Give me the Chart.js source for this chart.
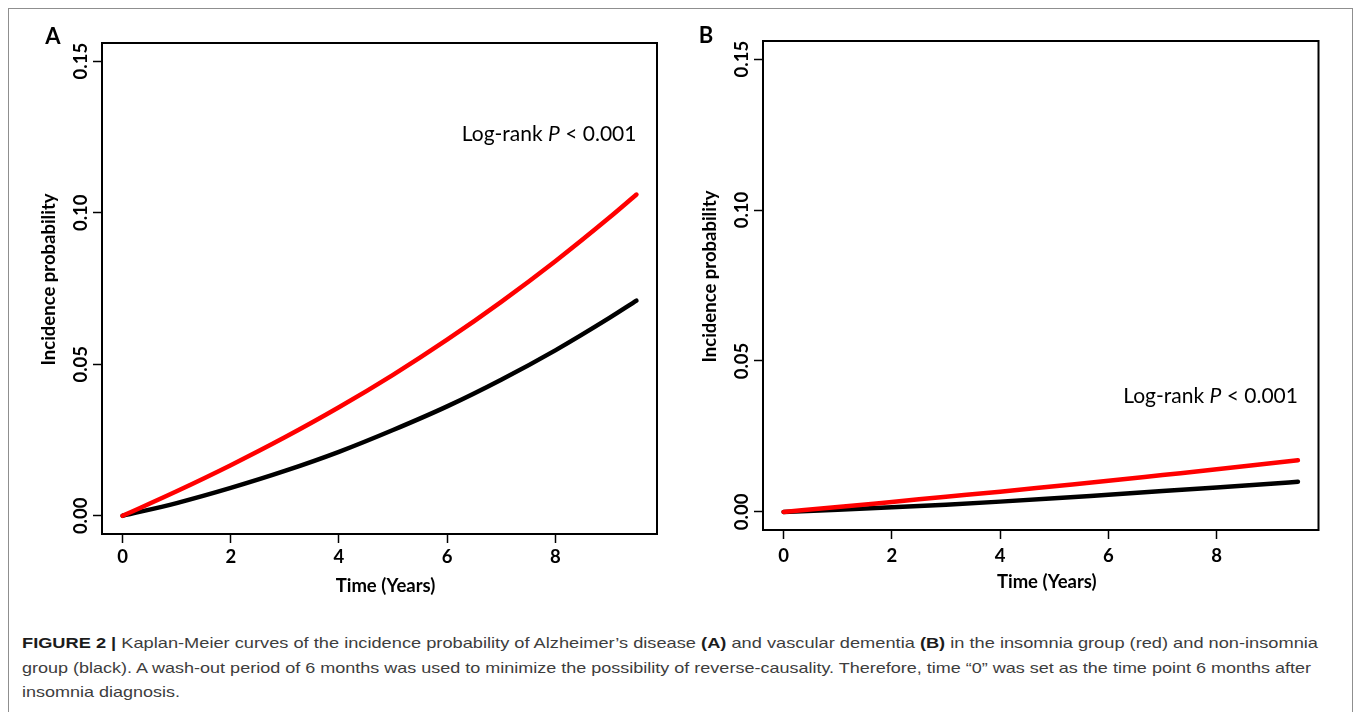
<!DOCTYPE html>
<html>
<head>
<meta charset="utf-8">
<script src="https://cdn.jsdelivr.net/npm/chart.js@4.4.1/dist/chart.umd.min.js"></script>
<style>
  body { margin: 0; width: 1358px; height: 712px; background: #fff; position: relative; overflow: hidden; }
  #frame { position: absolute; left: 8px; top: 8px; width: 1345px; height: 740px; border: 1.5px solid #8f8f8f; box-sizing: border-box; }
  canvas { position: absolute; top: 0; }
  #chartA { left: 0; }
  #chartB { left: 679px; }
  .cap { position: absolute; left: 22px; font-family: "Liberation Sans Narrow", "Liberation Sans", Arial, sans-serif;
         font-size: 15px; line-height: 24px; color: #3d3d3d; white-space: nowrap; transform-origin: left center; }
  .cap b { color: #1c1c1c; }
</style>
</head>
<body>
<div id="frame"></div>
<canvas id="chartA" width="679" height="612"></canvas>
<canvas id="chartB" width="679" height="612"></canvas>
<div class="cap" id="cap1" style="top:631px"><b>FIGURE 2 |</b> Kaplan-Meier curves of the incidence probability of Alzheimer’s disease <b>(A)</b> and vascular dementia <b>(B)</b> in the insomnia group (red) and non-insomnia</div>
<div class="cap" id="cap2" style="top:656px">group (black). A wash-out period of 6 months was used to minimize the possibility of reverse-causality. Therefore, time “0” was set as the time point 6 months after</div>
<div class="cap" id="cap3" style="top:680px">insomnia diagnosis.</div>
<script>
// time since wash-out (years)
const years = [0, 1, 2, 3, 4, 5, 6, 7, 8, 9, 9.5];

// A: Alzheimer's disease
const adInsomnia = [0, 0.0081, 0.0167, 0.0259, 0.0358, 0.0465, 0.0581, 0.0706, 0.0840, 0.0984, 0.1060];
const adControl  = [0, 0.0042, 0.0092, 0.0148, 0.0211, 0.0283, 0.0361, 0.0449, 0.0546, 0.0653, 0.0710];

// B: vascular dementia
const vdInsomnia = [0, 0.0016, 0.0033, 0.0050, 0.0067, 0.0085, 0.0103, 0.0122, 0.0141, 0.0161, 0.0171];
const vdControl  = [0, 0.0007, 0.0015, 0.0024, 0.0034, 0.0045, 0.0057, 0.0069, 0.0081, 0.0093, 0.0100];

const xTicks = [0, 2, 4, 6, 8];
const yTicks = [0, 0.05, 0.10, 0.15];
const yTickLabels = ["0.00", "0.05", "0.10", "0.15"];
const xTitle = "Time (Years)";
const yTitle = "Incidence probability";
const pText = ["Log-rank ", "P", " < 0.001"];

const FONT = "Lato";

function toPoints(xs, ys) {
  return xs.map((x, i) => ({ x: x, y: ys[i] }));
}

// box, rotated y labels, axis titles, panel letter, log-rank note
const kmPlugin = {
  id: "km",
  afterDraw(chart, args, opts) {
    const { ctx, chartArea: { left, top, right, bottom }, scales: { x, y } } = chart;
    ctx.save();
    ctx.strokeStyle = "#000";
    ctx.lineWidth = 2;
    ctx.strokeRect(left, top, right - left, bottom - top);

    ctx.fillStyle = "#000";
    ctx.font = `bold 18.5px ${FONT}`;
    ctx.textAlign = "center";
    ctx.textBaseline = "middle";
    yTicks.forEach((v, i) => {
      ctx.save();
      ctx.translate(left - 21, y.getPixelForValue(v));
      ctx.rotate(-Math.PI / 2);
      ctx.fillText(yTickLabels[i], 0, 0);
      ctx.restore();
    });

    // axis titles (R puts them a little off the box centre here)
    ctx.fillText(xTitle, (left + right) / 2 + 6, opts.xTitleY);
    ctx.save();
    ctx.translate(left - 53, (top + bottom) / 2 - 9);
    ctx.rotate(-Math.PI / 2);
    ctx.fillText(yTitle, 0, 0);
    ctx.restore();

    ctx.font = `bold 22px ${FONT}`;
    ctx.fillText(opts.letter, opts.letterX, opts.letterY);

    // right end of note sits at the last time point
    const fonts = [`21px ${FONT}`, `italic 21px ${FONT}`, `21px ${FONT}`];
    const widths = pText.map((t, i) => { ctx.font = fonts[i]; return ctx.measureText(t).width; });
    let px = x.getPixelForValue(years[years.length - 1]) - widths.reduce((a, b) => a + b, 0);
    const py = y.getPixelForValue(opts.noteY);
    ctx.textAlign = "left";
    pText.forEach((t, i) => {
      ctx.font = fonts[i];
      ctx.fillText(t, px, py);
      px += widths[i];
    });
    ctx.restore();
  },
};

function makeChart(canvasId, red, black, p) {
  const tickFont = { family: FONT, size: 18.5, weight: "bold" };
  const config = {
    type: "line",
    data: {
      datasets: [
        { label: "Insomnia", data: toPoints(years, red), borderColor: "#ff0000", borderWidth: 4.5 },
        { label: "Non-insomnia", data: toPoints(years, black), borderColor: "#000000", borderWidth: 4.5 },
      ],
    },
    options: {
      responsive: false,
      animation: false,
      devicePixelRatio: 1,
      layout: { padding: { left: 0, top: p.padTop, right: p.padRight, bottom: 0 } },
      elements: {
        point: { radius: 0 },
        line: { cubicInterpolationMode: "monotone", borderCapStyle: "round", fill: false },
      },
      plugins: {
        legend: { display: false },
        tooltip: { enabled: false },
        km: { letter: p.letter, letterX: p.letterX, letterY: p.letterY, noteY: p.noteY, xTitleY: p.xTitleY },
      },
      scales: {
        x: {
          type: "linear",
          min: -0.38,
          max: 9.88,
          afterBuildTicks: (s) => { s.ticks = xTicks.map((v) => ({ value: v })); },
          afterFit: (s) => { s.height = p.xHeight; },
          ticks: { font: tickFont, color: "#000", padding: p.xTickPad, maxRotation: 0, autoSkip: false },
          grid: { drawOnChartArea: false, drawTicks: true, tickLength: 9, tickColor: "#000", tickWidth: 1.5 },
          border: { display: false },
        },
        y: {
          type: "linear",
          min: -0.006,
          max: 0.156,
          afterBuildTicks: (s) => { s.ticks = yTicks.map((v) => ({ value: v })); },
          afterFit: (s) => { s.width = p.yWidth; },
          ticks: { display: false },
          grid: { drawOnChartArea: false, drawTicks: true, tickLength: 9, tickColor: "#000", tickWidth: 1.5 },
          border: { display: false },
        },
      },
    },
    plugins: [kmPlugin],
  };
  return new Chart(document.getElementById(canvasId), config);
}

// stretch caption lines to the widths they have in the figure
function fitCaption() {
  const targets = { cap1: 1296, cap2: 1289 };
  let k2 = 1;
  Object.keys(targets).forEach((id) => {
    const el = document.getElementById(id);
    const k = targets[id] / el.getBoundingClientRect().width;
    el.style.transform = `scaleX(${k})`;
    k2 = k;
  });
  document.getElementById("cap3").style.transform = `scaleX(${k2})`;
}

document.fonts.load(`bold 18px ${FONT}`).then(() => document.fonts.load(`italic 21px ${FONT}`)).then(() => document.fonts.load(`21px ${FONT}`)).then(() => {
  makeChart("chartA", adInsomnia, adControl, {
    letter: "A", letterX: 53, letterY: 37, noteY: 0.126, xTitleY: 586,
    padTop: 43, padRight: 22, yWidth: 102, xHeight: 78, xTickPad: 3,
  });
  makeChart("chartB", vdInsomnia, vdControl, {
    letter: "B", letterX: 27, letterY: 36, noteY: 0.0383, xTitleY: 582,
    padTop: 41, padRight: 39.5, yWidth: 84, xHeight: 82, xTickPad: 5.5,
  });
  fitCaption();
});
</script>
</body>
</html>
